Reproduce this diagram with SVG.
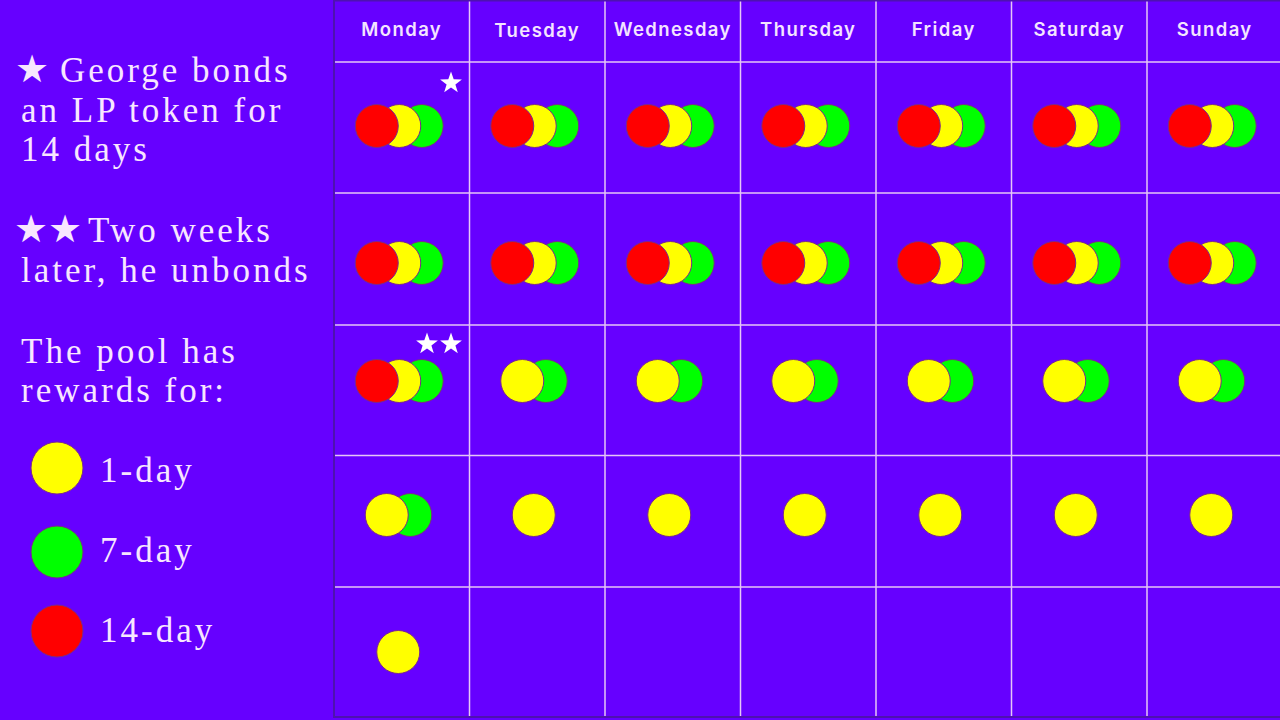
<svg xmlns="http://www.w3.org/2000/svg" xmlns:xlink="http://www.w3.org/1999/xlink" width="1280" height="720" viewBox="0 0 1280 720">
<style>
.bg{fill:#6600ff}
.grid line{stroke:#e6c6f6;stroke-width:1.5}
.day{font-family:Inter,"Open Sans",sans-serif;font-weight:600;font-size:18.5px;fill:#f4e4ff;text-anchor:middle;letter-spacing:1.4px}
.txt{font-family:"Liberation Serif","Times New Roman",serif;font-size:35px;fill:#f8e6ff;letter-spacing:3px}
.sym{font-family:"DejaVu Sans",sans-serif;letter-spacing:0}
.r{fill:#ff0000;stroke:#7a2a8a;stroke-width:1}
.y{fill:#ffff00;stroke:#7a2a8a;stroke-width:1}
.g{fill:#00ff00;stroke:#7a2a8a;stroke-width:1}
.star{fill:#ffffff}
</style>
<defs>
<polygon id="star" class="star" points="0,-11.5 2.7,-3.7 10.9,-3.6 4.4,1.4 6.8,9.3 0,4.6 -6.8,9.3 -4.4,1.4 -10.9,-3.6 -2.7,-3.7"/>
<g id="trio"><circle class="g" cx="20" cy="0" r="21.5"/><circle class="y" cx="-2.5" cy="0" r="21.5"/><circle class="r" cx="-25" cy="0" r="21.5"/></g>
<g id="duo"><circle class="g" cx="8.5" cy="0" r="21.5"/><circle class="y" cx="-15" cy="0" r="21.5"/></g>
<g id="one"><circle class="y" cx="-3.5" cy="0" r="21.5"/></g>
</defs>
<rect class="bg" x="0" y="0" width="1280" height="720"/>

<g id="legend-text">
<text class="txt" x="15" y="82"><tspan class="sym" font-size="38">★</tspan><tspan x="60">George bonds</tspan></text>
<text class="txt" x="21" y="122">an LP token for</text>
<text class="txt" x="21" y="161">14 days</text>
<text class="txt" x="14" y="242"><tspan class="sym" font-size="38">★★</tspan><tspan x="88">Two weeks</tspan></text>
<text class="txt" x="21" y="282">later, he unbonds</text>
<text class="txt" x="21" y="363">The pool has</text>
<text class="txt" x="21" y="402">rewards for:</text>
</g>
<g id="legend-1day"><circle class="y" cx="57" cy="468" r="26"/><text class="txt" x="100" y="482">1-day</text></g>
<g id="legend-7day"><circle class="g" cx="57" cy="552" r="26"/><text class="txt" x="100" y="562">7-day</text></g>
<g id="legend-14day"><circle class="r" cx="57" cy="631" r="26"/><text class="txt" x="100" y="642">14-day</text></g>

<g id="grid" class="grid">
<line x1="469.5" y1="0" x2="469.5" y2="717"/>
<line x1="605" y1="0" x2="605" y2="717"/>
<line x1="740.5" y1="0" x2="740.5" y2="717"/>
<line x1="876" y1="0" x2="876" y2="717"/>
<line x1="1011.5" y1="0" x2="1011.5" y2="717"/>
<line x1="1147" y1="0" x2="1147" y2="717"/>
<line x1="334" y1="62" x2="1280" y2="62"/>
<line x1="334" y1="193" x2="1280" y2="193"/>
<line x1="334" y1="325" x2="1280" y2="325"/>
<line x1="334" y1="455.5" x2="1280" y2="455.5"/>
<line x1="334" y1="587" x2="1280" y2="587"/>
</g>
<rect x="334" y="0.5" width="947" height="716.5" fill="none" stroke="#4e12b0" stroke-width="2"/>

<g id="headers">
<text class="day" x="401.75" y="36">Monday</text>
<text class="day" x="537.25" y="37">Tuesday</text>
<text class="day" x="672.75" y="36">Wednesday</text>
<text class="day" x="808.25" y="36">Thursday</text>
<text class="day" x="943.75" y="36">Friday</text>
<text class="day" x="1079.25" y="36">Saturday</text>
<text class="day" x="1214.75" y="36">Sunday</text>
</g>

<g id="row1">
<use xlink:href="#trio" x="401.75" y="126"/>
<use xlink:href="#trio" x="537.25" y="126"/>
<use xlink:href="#trio" x="672.75" y="126"/>
<use xlink:href="#trio" x="808.25" y="126"/>
<use xlink:href="#trio" x="943.75" y="126"/>
<use xlink:href="#trio" x="1079.25" y="126"/>
<use xlink:href="#trio" x="1214.75" y="126"/>
<use xlink:href="#star" x="451" y="83"/>
</g>
<g id="row2">
<use xlink:href="#trio" x="401.75" y="263"/>
<use xlink:href="#trio" x="537.25" y="263"/>
<use xlink:href="#trio" x="672.75" y="263"/>
<use xlink:href="#trio" x="808.25" y="263"/>
<use xlink:href="#trio" x="943.75" y="263"/>
<use xlink:href="#trio" x="1079.25" y="263"/>
<use xlink:href="#trio" x="1214.75" y="263"/>
</g>
<g id="row3">
<use xlink:href="#trio" x="401.75" y="381"/>
<use xlink:href="#duo" x="537.25" y="381"/>
<use xlink:href="#duo" x="672.75" y="381"/>
<use xlink:href="#duo" x="808.25" y="381"/>
<use xlink:href="#duo" x="943.75" y="381"/>
<use xlink:href="#duo" x="1079.25" y="381"/>
<use xlink:href="#duo" x="1214.75" y="381"/>
<use xlink:href="#star" x="427" y="344"/>
<use xlink:href="#star" x="451" y="344"/>
</g>
<g id="row4">
<use xlink:href="#duo" x="401.75" y="515"/>
<use xlink:href="#one" x="537.25" y="515"/>
<use xlink:href="#one" x="672.75" y="515"/>
<use xlink:href="#one" x="808.25" y="515"/>
<use xlink:href="#one" x="943.75" y="515"/>
<use xlink:href="#one" x="1079.25" y="515"/>
<use xlink:href="#one" x="1214.75" y="515"/>
</g>
<g id="row5">
<use xlink:href="#one" x="401.75" y="652"/>
</g>
</svg>
